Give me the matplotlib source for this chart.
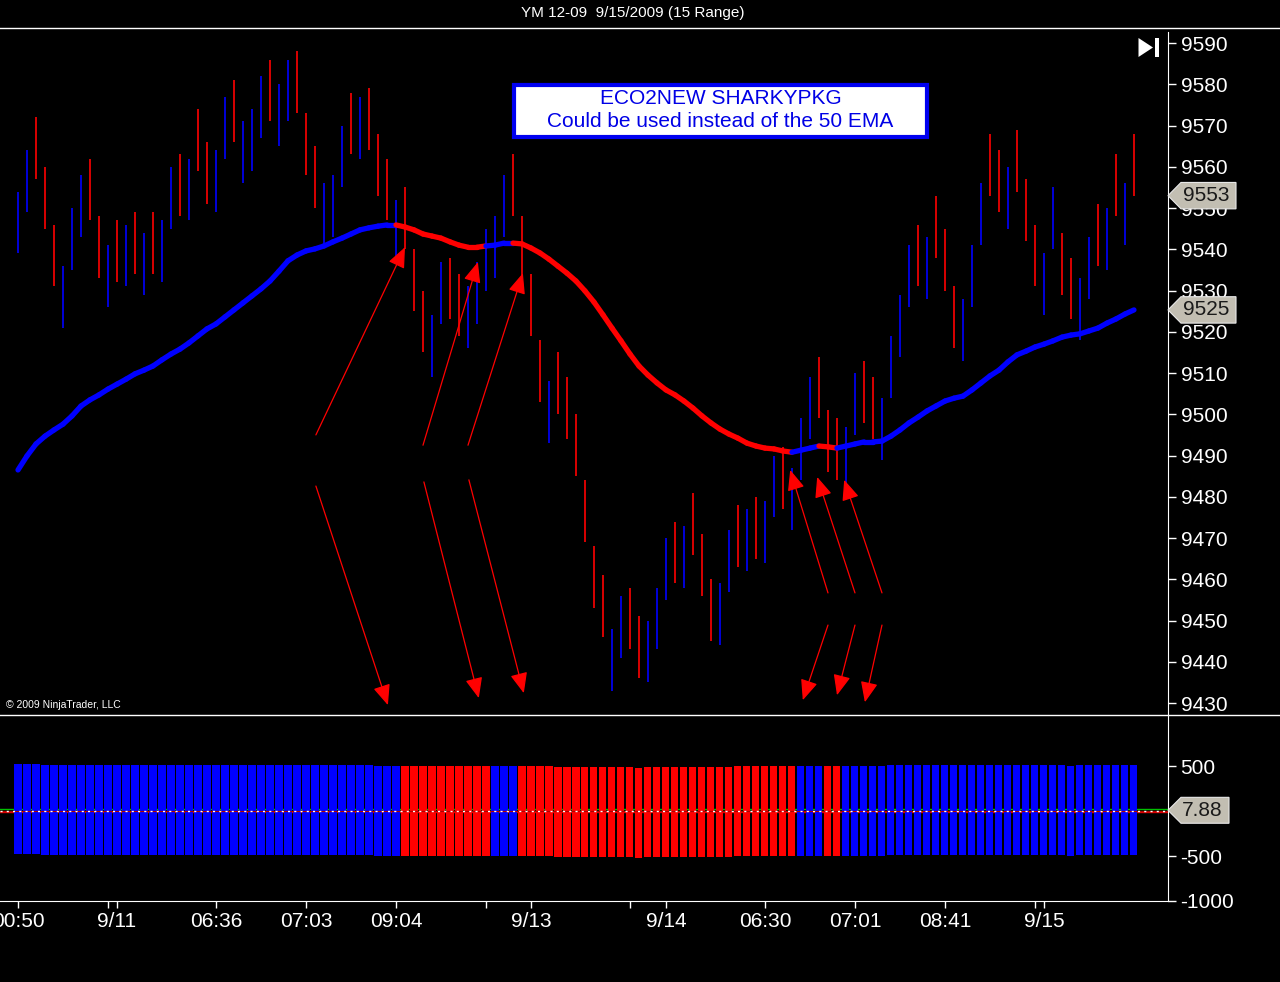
import matplotlib
matplotlib.use("Agg")
import matplotlib.pyplot as plt
from matplotlib.collections import LineCollection
from matplotlib.patches import Polygon, Rectangle
from matplotlib.lines import Line2D
import matplotlib.transforms as mtrans

plt.rcParams['font.family'] = ['Liberation Sans', 'DejaVu Sans']
plt.rcParams['axes.unicode_minus'] = False

title = "YM 12-09  9/15/2009 (15 Range)"
bar_range = 15

# highs of the 15-point range bars
highs = [9554, 9564, 9572, 9560, 9546, 9536, 9550, 9558, 9562, 9548,
         9541, 9547, 9546, 9549, 9544, 9549, 9547, 9560, 9563, 9562,
         9574, 9566, 9564, 9577, 9581, 9571, 9574, 9582, 9586, 9580,
         9586, 9588, 9573, 9565, 9556, 9558, 9570, 9578, 9577, 9579,
         9568, 9562, 9552, 9555, 9540, 9530, 9524, 9537, 9538, 9534,
         9531, 9537, 9545, 9548, 9558, 9563, 9548, 9534, 9518, 9508,
         9515, 9509, 9500, 9484, 9468, 9461, 9448, 9456, 9458, 9451,
         9450, 9458, 9470, 9474, 9473, 9481, 9471, 9460, 9459, 9472,
         9478, 9477, 9480, 9479, 9490, 9492, 9487, 9499, 9509, 9514,
         9501, 9499, 9497, 9510, 9513, 9509, 9504, 9519, 9529, 9541,
         9546, 9543, 9553, 9545, 9531, 9528, 9541, 9556, 9568, 9564,
         9560, 9569, 9557, 9546, 9539, 9555, 9544, 9538, 9533, 9543,
         9551, 9550, 9563, 9556, 9568]

# u = up bar (blue), d = down bar (red)
bar_dir = ("uuddduuudd" "udududuudu" "dduuduuudu" "uddduuudud"
           "dduddduudd" "uuuuuddddu" "dddddduudd" "uuududdduu"
           "duduuduuud" "dduudduuuu" "duddduuudd" "uddduudduu" "dudud")

ema = [9486.5, 9489.9, 9492.8, 9494.7, 9496.2, 9497.6, 9499.6, 9502.0, 9503.5, 9504.7,
       9506.1, 9507.3, 9508.5, 9509.8, 9510.7, 9511.7, 9513.2, 9514.6, 9515.8, 9517.3,
       9519.0, 9520.7, 9521.9, 9523.6, 9525.3, 9527.0, 9528.7, 9530.4, 9532.3, 9534.7,
       9537.2, 9538.6, 9539.6, 9540.1, 9540.8, 9541.8, 9542.7, 9543.7, 9544.7, 9545.2,
       9545.6, 9545.9, 9545.9, 9545.4, 9544.7, 9543.7, 9543.2, 9542.7, 9541.8, 9541.0,
       9540.5, 9540.5, 9540.8, 9541.0, 9541.5, 9541.5, 9541.3, 9540.3, 9539.1, 9537.6,
       9535.9, 9534.2, 9532.3, 9529.9, 9527.2, 9524.1, 9520.9, 9517.8, 9514.6, 9511.7,
       9509.5, 9507.6, 9505.9, 9504.7, 9503.2, 9501.5, 9499.6, 9497.9, 9496.4, 9495.2,
       9494.2, 9493.0, 9492.3, 9491.8, 9491.6, 9491.1, 9490.8, 9491.3, 9491.8, 9492.3,
       9492.1, 9491.8, 9492.3, 9492.8, 9493.3, 9493.3, 9493.5, 9494.7, 9496.2, 9497.9,
       9499.3, 9500.8, 9502.0, 9503.2, 9503.9, 9504.4, 9505.9, 9507.6, 9509.3, 9510.7,
       9512.7, 9514.4, 9515.3, 9516.3, 9517.0, 9517.8, 9518.7, 9519.2, 9519.5, 9520.2,
       9520.9, 9522.1, 9523.1, 9524.3, 9525.3]

# lower panel: b = blue, r = red
hist_col = ("bbbbbbbbbb" "bbbbbbbbbb" "bbbbbbbbbb" "bbbbbbbbbb"
            "bbbrrrrrrr" "rrrbbbrrrr" "rrrrrrrrrr" "rrrrrrrrrr"
            "rrrrrrrbbb" "rrbbbbbbbb" "bbbbbbbbbb" "bbbbbbbbbb" "bbbbb")
hist_up = [522, 522, 522, 508, 508, 508, 508, 508, 508, 508,
           508, 508, 508, 508, 508, 508, 508, 508, 508, 508,
           508, 508, 508, 508, 508, 508, 508, 508, 508, 508,
           508, 508, 508, 508, 508, 508, 508, 508, 508, 508,
           500, 500, 500, 500, 500, 500, 500, 500, 500, 500,
           500, 500, 500, 500, 500, 500, 500, 500, 500, 500,
           486, 486, 486, 486, 486, 486, 486, 486, 486, 474,
           486, 486, 486, 486, 486, 486, 486, 486, 486, 486,
           500, 500, 500, 500, 500, 500, 500, 500, 500, 500,
           500, 500, 500, 500, 500, 500, 500, 508, 508, 508,
           508, 508, 508, 508, 508, 508, 508, 508, 508, 508,
           508, 508, 508, 508, 508, 508, 508, 500, 508, 508,
           508, 508, 508, 508, 508]
hist_dn = [-478, -478, -478, -489, -489, -489, -489, -489, -489, -489,
           -489, -489, -489, -489, -489, -489, -489, -489, -489, -489,
           -489, -489, -489, -489, -489, -489, -489, -489, -489, -489,
           -489, -489, -489, -489, -489, -489, -489, -489, -489, -489,
           -497, -497, -497, -497, -497, -497, -497, -497, -497, -497,
           -497, -497, -497, -497, -497, -497, -497, -497, -497, -497,
           -508, -508, -508, -508, -508, -508, -508, -508, -508, -519,
           -508, -508, -508, -508, -508, -508, -508, -508, -508, -508,
           -497, -497, -497, -497, -497, -497, -497, -497, -497, -497,
           -497, -497, -497, -497, -497, -497, -497, -489, -489, -489,
           -489, -489, -489, -489, -489, -489, -489, -489, -489, -489,
           -489, -489, -489, -489, -489, -489, -489, -497, -489, -489,
           -489, -489, -489, -489, -489]
osc_value = 7.88

tick_pos = [0, 10, 11, 22, 32, 42, 52, 57, 68, 72, 83, 93, 103, 113, 114]
tick_lbl = ["00:50", "", "9/11", "06:36", "07:03", "09:04", "", "9/13", "", "9/14",
            "06:30", "07:01", "08:41", "", "9/15"]
price_ticks = list(range(9430, 9591, 10))
osc_ticks = [500, -500, -1000]

# (tail bar, tail price, head bar, head price)
arrows = [(33.1, 9495.0, 43.0, 9540.5), (45.0, 9492.5, 51.1, 9536.9),
          (50.0, 9492.5, 56.1, 9534.2), (33.1, 9482.6, 41.1, 9429.5),
          (45.1, 9483.6, 51.2, 9431.2), (50.1, 9484.1, 56.2, 9432.4),
          (90.0, 9456.7, 85.8, 9486.5), (93.0, 9456.7, 88.8, 9484.8),
          (96.0, 9456.7, 91.8, 9484.1), (90.0, 9448.9, 87.2, 9430.7),
          (93.0, 9448.9, 91.0, 9431.9), (96.0, 9448.9, 94.1, 9430.2)]

BLUE = '#0000ff'
RED = '#ff0000'
W, H = 1280, 982

fig = plt.figure(figsize=(12.8, 9.82), dpi=100, facecolor='black')
ax = fig.add_axes([0, 267 / H, 1168 / W, 683 / H])
ax2 = fig.add_axes([0, 81 / H, 1168 / W, 186 / H], sharex=ax)

for a in (ax, ax2):
    a.set_facecolor('black')
    for s in a.spines.values():
        s.set_visible(False)
    a.spines['right'].set_visible(True)
    a.spines['right'].set_color('white')
    a.yaxis.tick_right()
    a.tick_params(axis='y', colors='white', labelsize=15, length=6, width=1, pad=3)
ax2.spines['bottom'].set_visible(True)
ax2.spines['bottom'].set_color('white')

n = len(highs)
idx = list(range(n))
lows = [h - bar_range for h in highs]
bar_cols = [BLUE if d == 'u' else RED for d in bar_dir]
ax.vlines(idx, lows, highs, colors=bar_cols, lw=1.2, zorder=2)

segs = [[(i - 1, ema[i - 1]), (i, ema[i])] for i in range(1, n)]
seg_cols = [BLUE if hist_col[i] == 'b' else RED for i in range(1, n)]
ax.add_collection(LineCollection(segs, colors=seg_cols, linewidths=3.8,
                                 capstyle='round', zorder=3))

for tx, ty, hx, hy in arrows:
    ax.annotate('', xy=(hx, hy), xytext=(tx, ty),
                arrowprops=dict(arrowstyle='-|>,head_length=0.9,head_width=0.38',
                                color=RED, lw=0.9, mutation_scale=14,
                                shrinkA=0, shrinkB=0), zorder=4)

ax.set_xlim(-2, 127.78)
ax.set_ylim(9427.1, 9592.67)
ax.set_yticks(price_ticks)
ax.tick_params(axis='x', bottom=False, labelbottom=False)

# info box
ax.add_patch(Rectangle((514 / 1168, (715 - 137) / 683), 413 / 1168, 52 / 683,
                       transform=ax.transAxes, facecolor='white', edgecolor='#0000f0',
                       lw=3, zorder=5))
ax.text(720.5 / 1168, (715 - 110) / 683, "ECO2NEW SHARKYPKG\nCould be used instead of the 50 EMA",
        transform=ax.transAxes, ha='center', va='center', fontsize=15,
        color='#0000e6', linespacing=1.22, zorder=6)

ax.text(6 / 1168, (715 - 705) / 683, "\u00a9 2009 NinjaTrader, LLC", transform=ax.transAxes,
        fontsize=7.5, color='white', va='center', ha='left')

# go-to-end icon
ax.add_patch(Polygon([(1138.5 / 1168, (715 - 38) / 683), (1138.5 / 1168, (715 - 57) / 683),
                      (1153 / 1168, (715 - 47.5) / 683)], closed=True, transform=ax.transAxes,
                     facecolor='white', edgecolor='none', clip_on=False))
ax.add_patch(Rectangle((1155 / 1168, (715 - 57) / 683), 3.5 / 1168, 19 / 683,
                       transform=ax.transAxes, facecolor='white', edgecolor='none', clip_on=False))


def tag(a, value, label, half, right):
    tr = mtrans.blended_transform_factory(a.transAxes, a.transData)
    body = 1181 / 1168
    a.add_patch(Polygon([(1.0, value), (body, value + half), (right, value + half),
                         (right, value - half), (body, value - half)], closed=True,
                        transform=tr, facecolor='#c2beb2', edgecolor='#e8e8e8',
                        lw=0.8, clip_on=False, zorder=10))
    a.text((body + right) / 2 - 0.002, value, label, transform=tr, ha='center', va='center',
           fontsize=15, color='#1a1a1a', clip_on=False, zorder=11)


tag(ax, highs[-1] - bar_range, "%d" % (highs[-1] - bar_range), 3.2, 1236 / 1168)
tag(ax, ema[-1], "%d" % round(ema[-1]), 3.2, 1236 / 1168)

# lower panel
hcols = [BLUE if c == 'b' else RED for c in hist_col]
hb = [u - d for u, d in zip(hist_up, hist_dn)]
ax2.bar(idx, hb, bottom=hist_dn, width=0.78, color=hcols, linewidth=0, zorder=2)
ax2.axhline(25, color='#00c000', lw=1, zorder=1)
ax2.axhline(-15, color='#e00000', lw=1, zorder=1)
ax2.axhline(0, color='#b00000', lw=0.8, zorder=3)
ax2.axhline(0, color='white', lw=1, ls=(0, (1.5, 3)), zorder=4)
ax2.set_ylim(-1000, 1066.7)
ax2.set_yticks(osc_ticks)
ax2.set_xticks(tick_pos)
ax2.set_xticklabels(tick_lbl)
ax2.tick_params(axis='x', colors='white', labelsize=15, length=5, width=1, pad=3)
tag(ax2, osc_value, "%.2f" % osc_value, 144, 1229 / 1168)

fig.text(633 / W, 1 - 13 / H, title, ha='center', va='center', fontsize=11, color='white')
fig.add_artist(Line2D([0, 1], [1 - 27.5 / H] * 2, color='white', lw=1))
fig.add_artist(Line2D([0, 1], [267 / H] * 2, color='white', lw=1))

fig.savefig("out.png", dpi=100, facecolor='black')
